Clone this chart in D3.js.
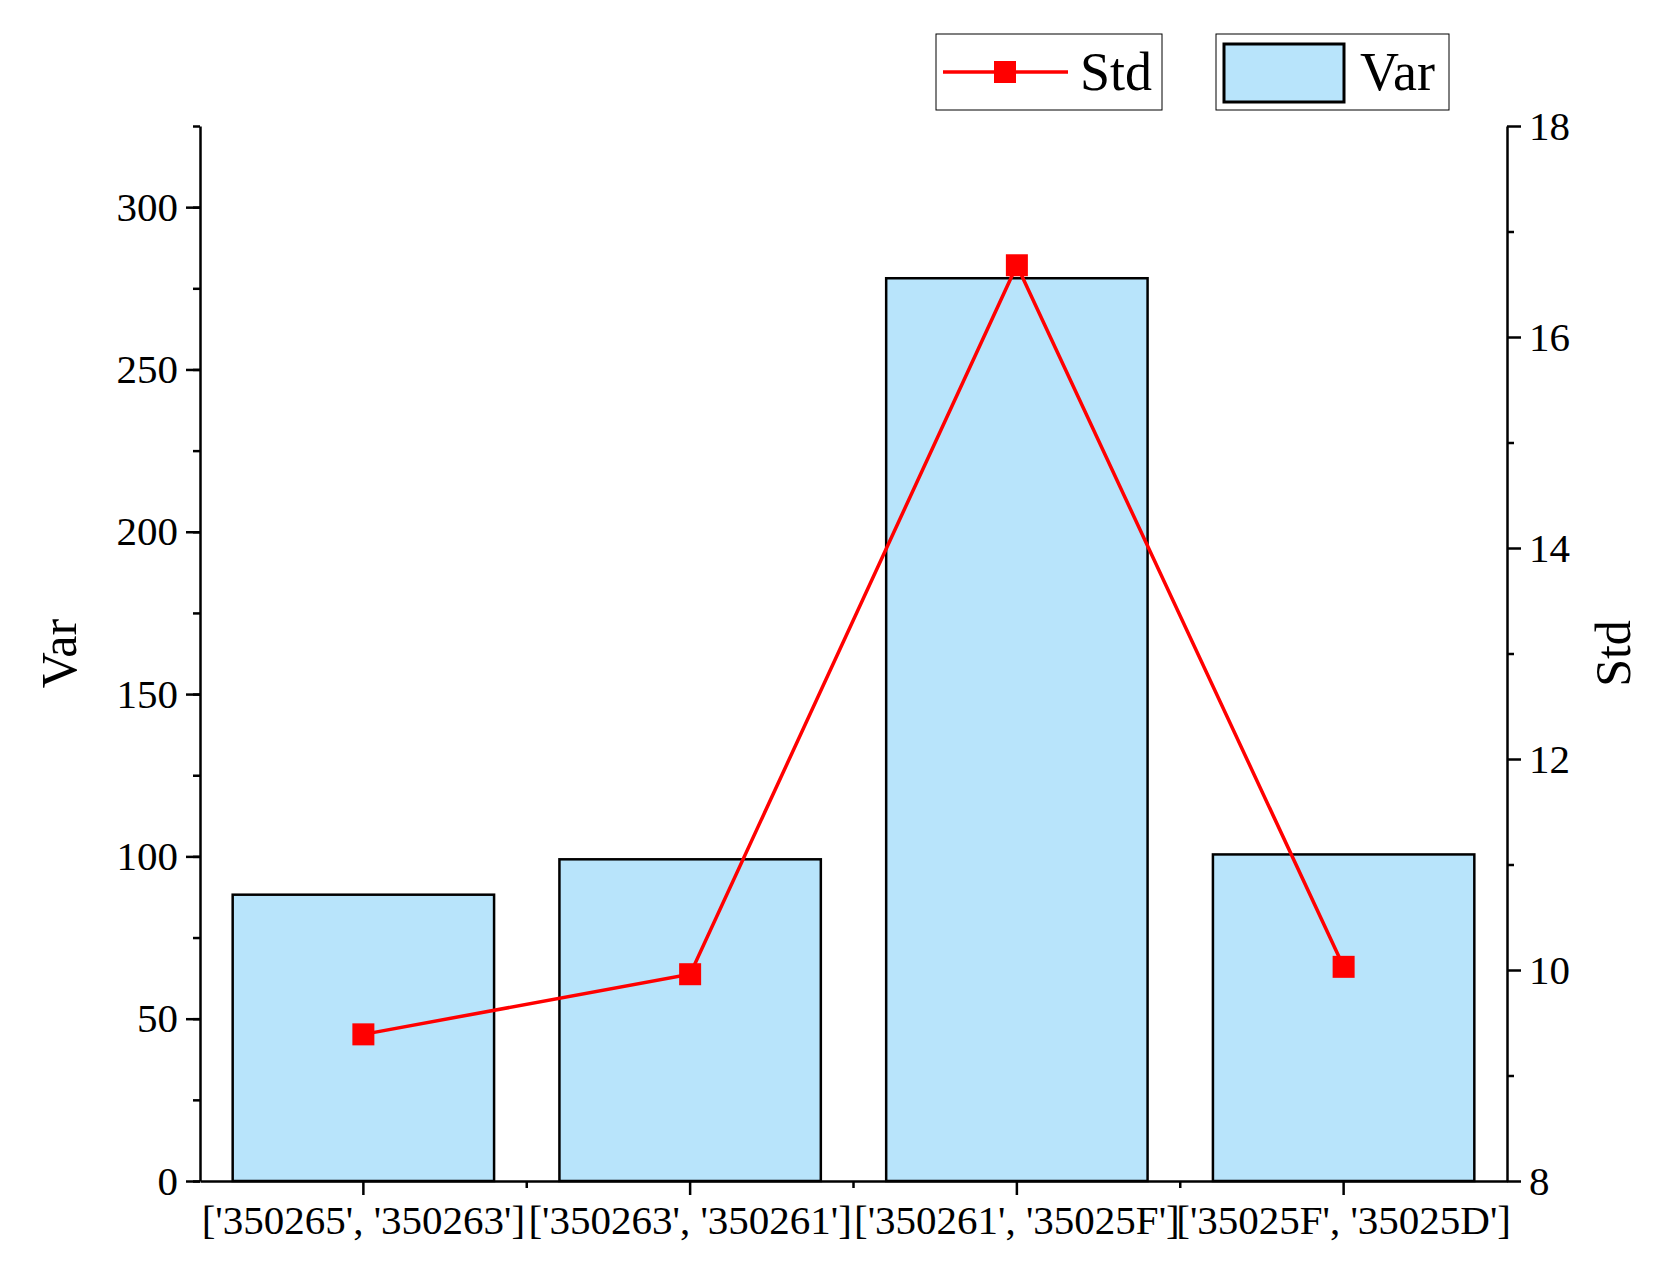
<!DOCTYPE html>
<html><head><meta charset="utf-8">
<script src="https://cdn.jsdelivr.net/npm/d3@7"></script>
<style>body{margin:0;background:#fff}svg{font-family:"Liberation Serif","Times New Roman",serif}</style>
</head><body><svg width="1671" height="1282"></svg>
<script>
const categories = ["['350265', '350263']", "['350263', '350261']", "['350261', '35025F']", "['35025F', '35025D']"]
const varValues = [88.2, 99.1, 278.1, 100.6]
const stdValues = [9.39, 9.96, 16.68, 10.03]
const varTicks = [0, 50, 100, 150, 200, 250, 300]
const stdTicks = [8, 10, 12, 14, 16, 18]

const svg = d3.select('svg')
const L = 200, R = 1507, T = 126, B = 1181

const x = d3.scaleBand().domain(categories).range([L, R]).paddingInner(0.2).paddingOuter(0.1)
const xb = d3.scaleBand().domain(categories).range([L, R])
const yL = d3.scaleLinear().domain([0, 325]).range([B, T])
const yR = d3.scaleLinear().domain([8, 18]).range([B, T])

svg.selectAll('rect.bar').data(varValues).join('rect')
   .attr('x', (d, i) => x(categories[i]))
   .attr('y', d => yL(d))
   .attr('width', x.bandwidth())
   .attr('height', d => B - yL(d))
   .attr('fill', '#b8e4fb').attr('stroke', '#000').attr('stroke-width', 2.5)

const cx = i => xb(categories[i]) + xb.bandwidth() / 2
svg.append('path')
   .attr('d', d3.line().x((d, i) => cx(i)).y(d => yR(d))(stdValues))
   .attr('fill', 'none').attr('stroke', '#f00').attr('stroke-width', 3.5)
svg.selectAll('rect.pt').data(stdValues).join('rect')
   .attr('x', (d, i) => cx(i) - 11).attr('y', d => yR(d) - 11)
   .attr('width', 22).attr('height', 22).attr('fill', '#f00')

function style(g) {
    g.selectAll('path,line').attr('stroke', '#000').attr('stroke-width', 2.5)
    g.selectAll('text').attr('font-size', 41).attr('fill', '#000').attr('font-family', 'Liberation Serif')
}
const minorL = d3.range(0, 326, 25)
svg.append('g').attr('transform', `translate(${L},0)`)
   .call(d3.axisLeft(yL).tickValues(minorL).tickSize(7).tickFormat(''))
   .call(style).select('.domain').remove()
svg.append('g').attr('transform', `translate(${L},0)`)
   .call(d3.axisLeft(yL).tickValues(varTicks).tickSize(14).tickSizeOuter(0).tickPadding(8))
   .call(style)
svg.append('g').attr('transform', `translate(${R},0)`)
   .call(d3.axisRight(yR).tickValues(d3.range(9, 18, 2)).tickSize(7).tickFormat(''))
   .call(style).select('.domain').remove()
svg.append('g').attr('transform', `translate(${R},0)`)
   .call(d3.axisRight(yR).tickValues(stdTicks).tickSize(14).tickSizeOuter(0).tickPadding(8))
   .call(style)
svg.append('g').attr('transform', `translate(0,${B})`)
   .call(d3.axisBottom(xb).tickValues([]).tickSizeOuter(0))
   .call(style)
svg.append('g').attr('transform', `translate(0,${B})`)
   .call(d3.axisBottom(xb).tickSize(14).tickSizeOuter(0).tickPadding(10))
   .call(style).select('.domain').remove()
svg.append('g').selectAll('line').data(categories.slice(1)).join('line')
   .attr('x1', d => xb(d)).attr('x2', d => xb(d)).attr('y1', B).attr('y2', B + 7)
   .attr('stroke', '#000').attr('stroke-width', 2.5)

svg.append('text').attr('transform', `translate(76,${(T + B) / 2}) rotate(-90)`)
   .attr('text-anchor', 'middle').attr('font-size', 50).text('Var')
svg.append('text').attr('transform', `translate(1630,${(T + B) / 2}) rotate(-90)`)
   .attr('text-anchor', 'middle').attr('font-size', 50).text('Std')

// legend
const lg = svg.append('g')
lg.append('rect').attr('x', 936).attr('y', 34).attr('width', 226).attr('height', 76)
  .attr('fill', '#fff').attr('stroke', '#000').attr('stroke-width', 1)
lg.append('line').attr('x1', 943).attr('x2', 1068).attr('y1', 72).attr('y2', 72)
  .attr('stroke', '#f00').attr('stroke-width', 3.5)
lg.append('rect').attr('x', 994).attr('y', 61).attr('width', 22).attr('height', 22).attr('fill', '#f00')
lg.append('text').attr('x', 1080).attr('y', 90).attr('font-size', 54).text('Std')
lg.append('rect').attr('x', 1216).attr('y', 34).attr('width', 233).attr('height', 76)
  .attr('fill', '#fff').attr('stroke', '#000').attr('stroke-width', 1)
lg.append('rect').attr('x', 1224).attr('y', 44).attr('width', 120).attr('height', 58)
  .attr('fill', '#b8e4fb').attr('stroke', '#000').attr('stroke-width', 3)
lg.append('text').attr('x', 1360).attr('y', 90).attr('font-size', 54).text('Var')
</script></body></html>
